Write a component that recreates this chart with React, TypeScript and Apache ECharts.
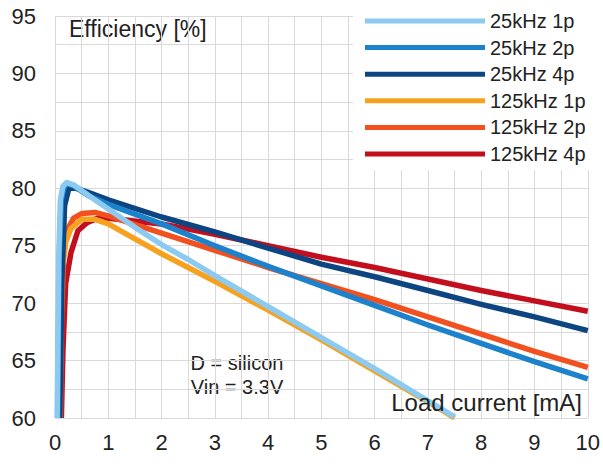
import React, { useEffect, useRef } from "react";
import * as echarts from "echarts";

const seriesNames = ["25kHz 1p", "25kHz 2p", "25kHz 4p", "125kHz 1p", "125kHz 2p", "125kHz 4p"];
const seriesColors = ["#8ccaf0", "#1d82cc", "#0c4581", "#f7a21f", "#f2511f", "#c30f1d"];

const s25k1p: number[][] = [
  [0.04, 60], [0.07, 74], [0.1, 79], [0.15, 80.2], [0.22, 80.5], [0.35, 80.3], [0.65, 79.3],
  [1, 78.2], [1.5, 76.6], [2, 75.1], [2.5, 73.8], [3, 72.4], [4, 69.7], [5, 67.0], [6, 64.3],
  [7, 61.5], [7.5, 60.1],
];
const s25k2p: number[][] = [
  [0.05, 60], [0.08, 74], [0.12, 79], [0.17, 80.1], [0.24, 80.4], [0.35, 80.2], [0.65, 79.3],
  [1, 78.6], [2, 76.9], [3, 75.0], [4, 73.2], [5, 71.5], [6, 69.8], [7, 68.1], [8, 66.5],
  [9, 64.9], [10, 63.4],
];
const s25k4p: number[][] = [
  [0.09, 60], [0.13, 72], [0.18, 78.5], [0.26, 80.0], [0.4, 80.0], [0.65, 79.6], [1, 79.0],
  [2, 77.5], [3, 76.2], [4, 74.8], [5, 73.4], [6, 72.3], [7, 71.1], [8, 69.9], [9, 68.8],
  [10, 67.6],
];
const s125k1p: number[][] = [
  [0.09, 60], [0.11, 68], [0.14, 73], [0.2, 75.3], [0.3, 76.5], [0.5, 77.3], [0.75, 77.3],
  [1, 76.9], [1.5, 75.6], [2, 74.3], [2.5, 73.1], [3, 71.9], [4, 69.4], [5, 66.8], [6, 64.1],
  [7, 61.4], [7.5, 60],
];
const s125k2p: number[][] = [
  [0.1, 60], [0.12, 68], [0.16, 74], [0.22, 76.3], [0.35, 77.4], [0.5, 77.8], [0.75, 77.9],
  [1, 77.6], [2, 76.1], [3, 74.6], [4, 73.1], [5, 71.7], [6, 70.3], [7, 68.8], [8, 67.3],
  [9, 65.8], [10, 64.4],
];
const s125k4p: number[][] = [
  [0.12, 60], [0.15, 66], [0.2, 71.7], [0.3, 74.4], [0.43, 76.3], [0.6, 77.0], [0.8, 77.4],
  [1, 77.4], [2, 76.9], [3, 76.0], [4, 75.0], [5, 74.0], [6, 73.1], [7, 72.1], [8, 71.1],
  [9, 70.2], [10, 69.3],
];
const seriesData = [s25k1p, s25k2p, s25k4p, s125k1p, s125k2p, s125k4p];
const drawOrder = [5, 4, 3, 2, 1, 0];

const FONT = "'Liberation Sans', Arial, sans-serif";

export default function App() {
  const ref = useRef<HTMLDivElement>(null);
  useEffect(() => {
    if (!ref.current) return;
    const chart = echarts.init(ref.current, null, { renderer: "svg" });
    const grid = "#d9d9d9";
    chart.setOption({
      animation: false,
      backgroundColor: "#ffffff",
      textStyle: { fontFamily: FONT },
      grid: { left: 55, right: 13, top: 16, bottom: 51 },
      xAxis: {
        type: "value",
        min: 0,
        max: 10,
        interval: 1,
        axisLine: { show: false },
        axisTick: { show: false },
        axisLabel: { fontSize: 22, color: "#222", margin: 13, fontFamily: FONT },
        splitLine: { show: true, lineStyle: { color: grid, width: 1 } },
        minorTick: { show: false, splitNumber: 2 },
        minorSplitLine: { show: true, lineStyle: { color: grid, width: 1 } },
      },
      yAxis: {
        type: "value",
        min: 60,
        max: 95,
        interval: 5,
        axisLine: { show: false },
        axisTick: { show: false },
        axisLabel: { fontSize: 22, color: "#222", margin: 19, fontFamily: FONT },
        splitLine: { show: true, lineStyle: { color: grid, width: 1 } },
        minorTick: { show: false, splitNumber: 2 },
        minorSplitLine: { show: true, lineStyle: { color: grid, width: 1 } },
      },
      legend: {
        orient: "vertical",
        left: 353,
        top: 0,
        padding: [10, 17, 5, 12],
        backgroundColor: "#ffffff",
        itemWidth: 120,
        itemHeight: 5,
        itemGap: 4.6,
        icon: "rect",
        data: seriesNames,
        textStyle: { fontSize: 20, color: "#222", lineHeight: 22, fontFamily: FONT },
      },
      graphic: [
        {
          type: "text",
          left: 69,
          top: 17,
          style: { text: "Efficiency [%]", fontSize: 23, fill: "#222", fontFamily: FONT },
        },
        {
          type: "text",
          right: 21,
          top: 390,
          z: 10,
          style: { text: "Load current [mA]", fontSize: 24, fill: "#222", fontFamily: FONT },
        },
        {
          type: "text",
          x: 237,
          y: 363,
          style: {
            text: "D = silicon",
            fontSize: 20,
            fill: "#222",
            fontFamily: FONT,
            align: "center",
            verticalAlign: "middle",
          },
        },
        {
          type: "text",
          x: 237,
          y: 387,
          style: {
            text: "Vin = 3.3V",
            fontSize: 20,
            fill: "#222",
            fontFamily: FONT,
            align: "center",
            verticalAlign: "middle",
          },
        },
      ],
      series: drawOrder.map((i) => ({
        name: seriesNames[i],
        type: "line",
        data: seriesData[i],
        showSymbol: false,
        symbol: "none",
        smooth: false,
        clip: true,
        z: 3,
        color: seriesColors[i],
        lineStyle: { width: 5.5, color: seriesColors[i], join: "round", cap: "butt" },
      })),
    });
    return () => chart.dispose();
  }, []);
  return (
    <div
      ref={ref}
      style={{ position: "fixed", left: 0, top: 0, width: 603, height: 469 }}
    />
  );
}
